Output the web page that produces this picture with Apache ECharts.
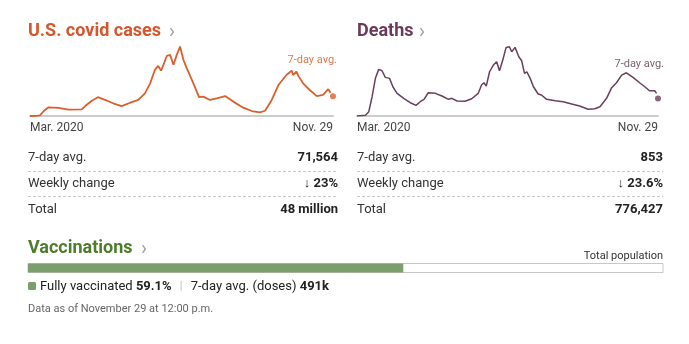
<!DOCTYPE html>
<html><head><meta charset="utf-8">
<script src="https://cdn.jsdelivr.net/npm/echarts@6/dist/echarts.min.js"></script>
<style>html,body{margin:0;padding:0;background:#fff}#c{width:689px;height:344px}</style>
</head><body><div id="c"></div>
<script>
// ---- data ----
const caseDates = ['2020-03-01','2020-03-14','2020-03-22','2020-03-30','2020-04-09','2020-04-30','2020-05-21','2020-06-18','2020-06-28','2020-07-09','2020-07-22','2020-08-06','2020-08-23','2020-09-10','2020-09-28','2020-10-15','2020-10-29','2020-11-09','2020-11-19','2020-11-26','2020-12-02','2020-12-07','2020-12-14','2020-12-21','2020-12-28','2021-01-04','2021-01-11','2021-01-18','2021-01-25','2021-02-08','2021-02-20','2021-03-01','2021-03-15','2021-03-29','2021-04-16','2021-05-03','2021-05-24','2021-06-11','2021-06-28','2021-07-09','2021-07-23','2021-08-06','2021-08-23','2021-09-03','2021-09-06','2021-09-13','2021-09-17','2021-09-27','2021-10-11','2021-10-26','2021-11-08','2021-11-19','2021-11-24'];
const caseValues = [0,800,2500,18000,31500,29000,23000,24000,40000,55000,68000,58000,46000,36000,48000,58000,82000,118000,167000,181000,164000,185000,217000,221000,185000,221000,251000,203000,173000,118000,68000,70000,58000,64000,72000,52000,30000,18000,13000,19000,58000,112000,148000,164000,148000,160000,145000,118000,94000,72000,76000,97000,84000];
const caseLatestDate = '2021-11-29';
const caseLatest = 71564;

const deathDates = ['2020-03-01','2020-03-19','2020-03-26','2020-04-02','2020-04-09','2020-04-16','2020-04-23','2020-04-30','2020-05-09','2020-05-16','2020-05-25','2020-06-08','2020-06-22','2020-07-04','2020-07-13','2020-07-21','2020-07-30','2020-08-14','2020-08-28','2020-09-11','2020-09-18','2020-09-29','2020-10-16','2020-10-30','2020-11-13','2020-11-20','2020-11-25','2020-11-30','2020-12-07','2020-12-15','2020-12-22','2020-12-28','2021-01-04','2021-01-11','2021-01-18','2021-01-23','2021-01-30','2021-02-07','2021-02-13','2021-02-19','2021-02-24','2021-03-03','2021-03-10','2021-03-20','2021-03-27','2021-04-07','2021-04-25','2021-05-12','2021-05-30','2021-06-16','2021-07-04','2021-07-18','2021-07-29','2021-08-12','2021-08-22','2021-09-02','2021-09-13','2021-09-23','2021-10-07','2021-10-21','2021-11-01','2021-11-11','2021-11-22','2021-11-26'];
const deathValues = [0,34,209,936,1828,2265,2197,1877,1828,1421,1101,858,645,519,694,810,1130,1101,970,810,858,728,713,839,1101,1504,1615,1455,2149,2474,2634,2197,2716,3332,3361,3119,3332,2876,2682,2071,2149,1828,1421,1067,1019,810,742,694,582,485,325,354,451,858,1343,1615,1988,2100,1877,1615,1421,1227,1227,1101];
const deathLatestDate = '2021-11-29';
const deathLatest = 853;

const axisStart = '2020-03-01';
const axisEnd = '2021-11-29';
const tickLabels = ['Mar. 2020', 'Nov. 29'];

const caseStatLabels = ['7-day avg.', 'Weekly change', 'Total'];
const caseStatValues = ['71,564', '↓ 23%', '48 million'];
const deathStatLabels = ['7-day avg.', 'Weekly change', 'Total'];
const deathStatValues = ['853', '↓ 23.6%', '776,427'];

const vaccinatedPct = 59.1;
const dosesAvg = '491k';

// ---- rendering ----
const FONT = 'Roboto, "Liberation Sans", sans-serif';
const C_CASE = '#d9602e', C_CASE_T = '#d4562a', C_CASE_L = '#e0784a';
const C_DEATH = '#6a3f5c', C_DEATH_T = '#6b3a5a', C_DEATH_L = '#7a6070';
const C_VAX_T = '#4c7c2c', C_VAX = '#7c9d6c';

function ts(s){ const p = s.split('-'); return new Date(+p[0], +p[1]-1, +p[2]).getTime(); }
const tMin = ts(axisStart), tMax = ts(axisEnd);

function xAxisFor(gi){
  return {
    type:'time', gridIndex:gi, min:tMin, max:tMax,
    axisLine:{show:true, lineStyle:{color:'#cccccc', width:2}},
    axisTick:{show:false}, splitLine:{show:false}, axisLabel:{show:false}
  };
}
function yAxisFor(gi, max){
  return {type:'value', gridIndex:gi, min:0, max:max, show:false, splitLine:{show:false}};
}

const graphics = [];
function txt(x, y, text, opts){
  graphics.push({type:'text', x:x, y:y, silent:true, style:Object.assign({
    text:text, fill:'#222', font:'13px ' + FONT, textAlign:'left', textVerticalAlign:'middle'
  }, opts || {})});
}
function dash(x1, x2, y){
  graphics.push({type:'line', silent:true, shape:{x1:x1, y1:y, x2:x2, y2:y},
    style:{stroke:'#c8c8c8', lineWidth:1, lineDash:[3,2]}});
}

// titles
txt(28, 31.5, 'U.S. covid cases', {fill:C_CASE_T, font:'bold 18px ' + FONT});
txt(169, 33, '›', {fill:'#a0a0a0', font:'20px ' + FONT});
txt(357, 31.5, 'Deaths', {fill:C_DEATH_T, font:'bold 18px ' + FONT});
txt(419, 33, '›', {fill:'#a0a0a0', font:'20px ' + FONT});
txt(337, 60, '7-day avg.', {fill:C_CASE_L, font:'11px ' + FONT, textAlign:'right'});
txt(664, 64, '7-day avg.', {fill:C_DEATH_L, font:'11px ' + FONT, textAlign:'right'});

// axis end labels
txt(30, 128, tickLabels[0], {fill:'#444', font:'12px ' + FONT});
txt(333, 128, tickLabels[1], {fill:'#444', font:'12px ' + FONT, textAlign:'right'});
txt(357, 128, tickLabels[0], {fill:'#444', font:'12px ' + FONT});
txt(658, 128, tickLabels[1], {fill:'#444', font:'12px ' + FONT, textAlign:'right'});

// stat tables
const rowY = [158, 184, 209.5];
caseStatLabels.forEach((l, i) => {
  txt(28, rowY[i], l, {fill:'#333'});
  txt(338, rowY[i], caseStatValues[i], {fill:'#222', font:'bold 13px ' + FONT, textAlign:'right'});
});
deathStatLabels.forEach((l, i) => {
  txt(357, rowY[i], l, {fill:'#333'});
  txt(663, rowY[i], deathStatValues[i], {fill:'#222', font:'bold 13px ' + FONT, textAlign:'right'});
});
dash(28, 338, 171.5); dash(28, 338, 196.5);
dash(357, 663, 171.5); dash(357, 663, 196.5);

// vaccinations
txt(28, 248, 'Vaccinations', {fill:C_VAX_T, font:'bold 18px ' + FONT});
txt(141, 249.5, '›', {fill:'#a0a0a0', font:'20px ' + FONT});
txt(663, 256, 'Total population', {fill:'#333', font:'11px ' + FONT, textAlign:'right'});
graphics.push({type:'rect', silent:true, shape:{x:28, y:282, width:8, height:8, r:1.5}, style:{fill:C_VAX}});
graphics.push({type:'text', x:40, y:286.5, silent:true, style:{
  text:'{n|Fully vaccinated }{b|' + vaccinatedPct + '%}{s|   |   }{n|7-day avg. (doses) }{b|' + dosesAvg + '}',
  textVerticalAlign:'middle',
  rich:{
    n:{fill:'#222', font:'13px ' + FONT},
    b:{fill:'#222', font:'bold 13px ' + FONT},
    s:{fill:'#bbb', font:'11px ' + FONT}
  }
}});
txt(28, 309, 'Data as of November 29 at 12:00 p.m.', {fill:'#666', font:'11px ' + FONT});

const option = {
  animation:false,
  textStyle:{fontFamily:FONT},
  grid:[
    {left:30, top:46, width:303, height:70},
    {left:357, top:46, width:301, height:70},
    {left:28, top:263, width:635, height:10}
  ],
  xAxis:[
    xAxisFor(0), xAxisFor(1),
    {type:'value', gridIndex:2, min:0, max:100, show:false}
  ],
  yAxis:[
    yAxisFor(0, 253000), yAxisFor(1, 3400),
    {type:'category', gridIndex:2, data:['pop'], show:false}
  ],
  series:[
    {type:'line', xAxisIndex:0, yAxisIndex:0, showSymbol:false, silent:true,
     data:caseDates.map((d, i) => [ts(d), caseValues[i]]),
     lineStyle:{color:C_CASE, width:1.8}},
    {type:'scatter', xAxisIndex:0, yAxisIndex:0, symbolSize:6, silent:true,
     data:[[ts(caseLatestDate), caseLatest]], itemStyle:{color:C_CASE}},
    {type:'line', xAxisIndex:1, yAxisIndex:1, showSymbol:false, silent:true,
     data:deathDates.map((d, i) => [ts(d), deathValues[i]]),
     lineStyle:{color:C_DEATH, width:1.5}},
    {type:'scatter', xAxisIndex:1, yAxisIndex:1, symbolSize:6, silent:true,
     data:[[ts(deathLatestDate), deathLatest]], itemStyle:{color:C_DEATH}},
    {type:'bar', xAxisIndex:2, yAxisIndex:2, barWidth:9, silent:true,
     data:[vaccinatedPct], itemStyle:{color:C_VAX},
     showBackground:true,
     backgroundStyle:{color:'#ffffff', borderColor:'#c8c8c8', borderWidth:1}}
  ],
  graphic:graphics
};
const chart = echarts.init(document.getElementById('c'), null, {renderer:'canvas'});
chart.setOption(option);
</script></body></html>
